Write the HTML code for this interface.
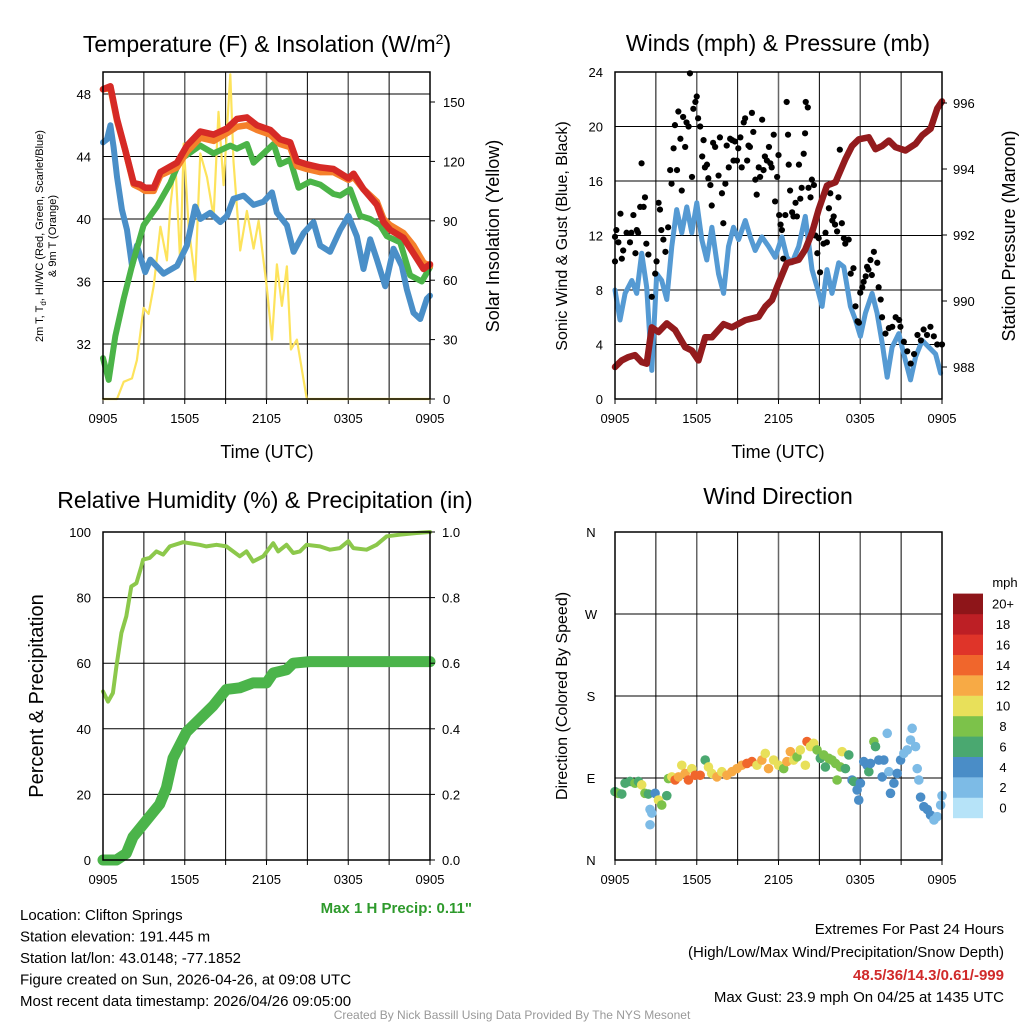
<!DOCTYPE html>
<html><head><meta charset="utf-8"><style>
body{margin:0;background:#fff;}
svg{display:block;font-family:"Liberation Sans",Arial,sans-serif;}
</style></head><body>
<svg id="c" width="1024" height="1024" viewBox="0 0 1024 1024"></svg>
<script>
// ---------- Panel 1 data ----------
const redT=[0,.54,1.03,1.64,2.25,2.74,3.1,3.72,4.21,5.43,6.16,7.14,8.12,9.1,9.83,10.56,11.3,12.27,13.0,13.74,14.23,14.96,15.94,16.92,18.02,18.39,19.12,20.1,20.59,21.08,22.05,22.79,23.52,24];
const redV=[48.3,48.5,46.4,44.4,42.3,42.2,42.0,42.0,43.0,43.6,44.7,45.6,45.4,45.8,46.4,46.5,46.0,45.7,45.1,44.9,43.7,43.5,43.3,43.2,42.6,42.9,41.9,40.9,39.8,39.3,38.8,37.8,36.8,37.1];
const orangeV=[48.3,48.4,46.3,44.4,42.2,42.0,41.8,41.8,42.8,43.3,44.3,45.2,45.0,45.5,45.9,46.0,45.7,45.4,44.8,44.6,43.4,43.2,43.0,43.0,42.5,42.7,41.9,41.1,40.0,39.6,39.1,38.3,37.2,37.0];
const greenT=[0,.42,.9,1.52,2.13,2.98,3.96,4.94,5.67,7.14,8.12,9.34,9.83,10.56,11.05,11.78,12.52,13.0,13.74,14.35,15.21,15.94,16.92,17.41,18.14,18.88,19.61,20.34,20.83,21.81,22.54,23.4,24];
const greenV=[31.1,29.7,32.5,34.9,37.0,39.6,40.8,42.3,43.8,44.7,44.2,44.7,44.5,44.8,43.6,44.2,44.8,43.5,43.8,42.0,42.4,42.2,41.6,41.5,41.9,40.2,40.0,39.6,38.9,38.5,36.4,36.0,36.9];
const blueT=[0,.29,.54,.78,1.03,1.39,1.76,2.13,2.49,3.1,3.47,4.45,5.43,6.16,6.77,7.14,7.87,8.61,9.1,9.58,10.32,11.05,11.78,12.4,12.76,13.5,13.99,14.72,15.45,15.94,16.67,17.41,18.02,18.63,19.12,19.61,20.1,20.71,21.32,21.93,22.3,22.79,23.28,23.77,24];
const blueV=[44.9,45.1,46.0,44.6,42.7,40.6,39.3,37.0,38.3,36.6,37.4,36.5,37.0,38.3,40.8,40.0,40.4,39.8,40.2,41.3,41.5,40.9,41.1,41.7,40.4,39.6,37.9,39.1,39.8,38.3,37.9,39.3,40.2,38.9,36.8,38.7,37.4,35.7,38.1,37.0,35.5,34.0,33.6,34.9,35.1];
const solarT=[0,1.03,1.52,2.13,2.49,2.98,3.35,3.72,4.21,4.69,4.94,5.31,5.67,5.92,6.28,6.77,7.14,7.63,8.12,8.48,8.85,9.34,9.58,10.07,10.56,11.05,11.42,11.78,12.03,12.4,12.76,13.13,13.5,13.79,14.23,14.72,14.96,24];
const solarV=[0,0,8.7,10.4,19.6,46,43,57,87,70,97,120,68,129,87,60,124,112,92,145,108,164,120,75,95,76,90,70,56,30,68,47,67,25,30,9.6,0,0];
const tempTicks=[32,36,40,44,48];
const solarTicks=[0,30,60,90,120,150];
const timeLabels=["0905","1505","2105","0305","0905"];
// ---------- Panel 2 data ----------
const presT=[0,.49,.98,1.47,1.96,2.33,2.7,3.19,3.8,4.41,5.15,5.64,6.13,6.62,7.11,7.97,8.58,9.56,10.54,11.03,11.52,12.01,12.62,13.48,13.97,14.46,14.95,15.56,16.18,16.91,17.4,17.89,18.63,19.12,19.61,20.1,20.59,21.32,22.06,22.55,23.16,23.65,24];
const presV=[988.0,988.2,988.3,988.36,988.15,988.1,989.2,989.06,989.32,989.12,988.6,988.5,988.2,988.9,988.9,989.3,989.2,989.42,989.52,989.83,990.03,990.54,991.15,991.25,991.56,992.07,992.78,993.5,993.6,994.3,994.7,994.9,994.96,994.6,994.7,994.86,994.66,994.56,994.76,995.02,995.22,995.83,996.05];
const windT=[0,.37,.74,1.23,1.59,1.96,2.33,2.7,3.06,3.43,3.8,4.17,4.53,4.9,5.27,5.64,6.0,6.37,6.74,7.11,7.6,7.97,8.33,8.7,9.07,9.56,9.93,10.29,10.78,11.27,11.76,12.25,12.62,12.99,13.48,13.97,14.46,14.83,15.2,15.56,15.93,16.42,16.79,17.28,17.65,18.01,18.38,18.87,19.24,19.61,19.98,20.34,20.83,21.2,21.69,22.06,22.55,23.04,23.53,23.9];
const windV=[8.0,5.8,7.75,8.7,7.75,10.7,8.2,2.1,9.2,8.7,7.3,11.2,13.9,12.2,14.1,12.2,14.4,11.7,10.2,12.6,9.2,7.75,11.2,12.6,11.7,13.1,11.9,10.9,11.9,11.2,10.4,11.9,10.4,10.0,11.2,13.4,9.5,8.2,6.8,9.5,7.75,10.0,9.7,6.8,5.8,4.6,6.3,7.75,6.3,4.1,1.6,3.8,4.8,3.3,1.4,3.1,4.3,3.8,3.3,1.9];
const gustT=[0,.1,.4,.25,0,.5,.6,.85,1.1,1.2,1.35,1.5,1.6,1.7,1.85,1.95,2.1,2.2,2.3,2.45,2.7,2.95,3.05,3.2,3.3,3.4,3.55,3.7,3.9,4.05,4.15,4.3,4.4,4.55,4.65,4.8,4.9,5.0,5.15,5.25,5.4,5.5,5.65,5.75,5.9,6.0,6.1,6.25,6.4,6.5,6.6,6.75,6.85,7.0,7.1,7.2,7.35,7.6,7.7,7.85,7.95,8.1,8.2,8.35,8.45,8.6,8.7,8.8,8.95,9.05,9.2,9.3,9.45,9.55,9.7,9.8,9.9,10.05,10.15,10.3,10.4,10.55,10.65,10.8,10.9,11.0,11.15,11.3,11.4,11.5,11.65,11.75,11.9,12.0,12.05,12.15,12.25,12.35,12.5,12.6,12.7,12.75,12.85,13.0,13.1,13.25,13.35,13.5,13.6,13.7,13.85,13.95,14.0,14.15,14.2,14.35,14.45,14.6,14.7,14.85,14.95,15.05,15.3,15.45,15.55,15.7,15.8,15.95,16.05,16.15,16.3,16.4,16.5,16.65,16.8,16.9,17.15,17.3,17.5,17.65,17.8,17.9,18.0,18.15,18.25,18.4,18.5,18.6,18.75,18.85,19.0,19.25,19.35,19.5,19.6,19.85,20.1,20.35,20.6,20.85,20.95,21.2,21.45,21.7,21.95,22.2,22.45,22.65,22.9,23.15,23.4,23.65,24];
const gustV=[11.9,12.4,13.6,11.5,10.1,10.3,10.9,12.2,11.5,12.2,13.5,10.7,12.4,12.2,14.1,17.3,14.1,14.8,11.4,10.6,7.5,9.2,10.1,14.4,13.9,12.4,11.7,10.8,12.6,16.8,15.8,18.4,20.1,16.8,21.1,19.1,15.3,20.7,18.5,20.3,20.0,23.9,16.3,21.3,21.8,22.2,20.6,20.0,17.8,19.0,17.0,17.2,16.2,15.7,14.2,18.8,18.5,16.4,19.2,15.1,12.9,15.8,18.6,17.0,19.1,19.0,17.5,18.9,17.5,18.4,19.2,17.0,20.3,20.6,17.5,18.6,18.5,21.0,19.6,16.1,15.0,17.0,16.3,20.5,16.8,17.8,17.5,18.5,17.3,17.0,19.4,14.5,16.3,17.9,13.5,12.8,12.4,10.3,13.5,21.8,19.4,17.2,15.3,13.7,13.4,14.4,13.4,17.2,14.7,15.5,18.0,19.5,21.8,21.4,15.5,14.8,16.1,15.7,12.0,10.7,11.8,9.3,11.4,12.2,11.5,14.0,15.1,13.1,13.4,12.8,12.3,14.8,18.3,12.9,11.8,11.4,11.7,9.2,9.6,6.8,5.7,5.6,7.8,8.2,8.6,9.0,9.7,9.5,10.2,9.1,10.8,10.0,8.2,7.3,6.0,4.8,5.2,5.3,6.0,5.8,5.3,4.2,3.5,2.6,3.3,4.7,4.3,5.1,4.7,5.3,4.6,4.0,4.0];
const windTicks=[0,4,8,12,16,20,24];
const presTicks=[988,990,992,994,996];
// ---------- Panel 3 data ----------
const rhT=[0,.37,.73,.98,1.35,1.71,2.08,2.45,2.82,2.94,3.43,3.92,4.41,4.9,5.88,7.1,7.59,8.33,9.06,10.04,10.53,11.02,11.76,12.49,12.86,13.47,13.96,14.45,14.94,15.92,16.65,17.39,18.0,18.37,19.35,20.08,20.82,21.8,23.02,24];
const rhV=[51.4,48.3,50.9,59,69.2,74.3,83.4,84.4,89.5,91.6,92.1,94.1,93.1,95.6,96.9,96.1,95.6,96.1,95.6,92.6,94.1,91,92.6,96.6,94.1,96.1,93.6,94.1,96.1,95.6,94.6,95.1,97.2,95.1,94.6,96.1,98.7,99.2,99.7,100];
const prT=[0,.98,1.71,2.2,3.18,4.16,4.65,5.14,5.63,6.12,7.1,8.08,9.06,10.04,11.02,12.0,12.49,13.47,13.96,15.18,24];
const prV=[0,0,.02,.07,.12,.17,.22,.31,.35,.39,.43,.47,.52,.525,.54,.54,.57,.58,.6,.605,.605];
const rhTicks=[0,20,40,60,80,100];
const prTicks=["0.0","0.2","0.4","0.6","0.8","1.0"];
// ---------- Panel 4 data ----------
const dirT=[0,.25,.5,.74,1.1,1.47,1.72,1.96,2.2,2.45,2.57,2.7,2.57,2.94,3.19,3.43,3.8,3.92,4.17,4.41,4.66,4.9,5.15,5.39,5.64,5.88,6.25,6.62,6.86,7.1,7.48,7.84,8.21,8.58,8.95,9.31,9.68,10.05,10.42,10.78,11.03,11.27,11.64,12.01,12.38,12.62,12.87,13.11,13.36,13.6,13.97,14.09,14.34,14.58,14.83,15.07,15.32,15.44,15.69,15.93,16.18,16.3,16.54,16.67,16.91,17.16,17.4,17.52,17.77,17.89,18.01,18.26,18.5,18.63,18.75,19.0,19.12,19.36,19.61,19.73,19.98,20.1,20.22,20.47,20.71,20.96,21.2,21.45,21.69,21.81,22.06,22.18,22.3,22.43,22.67,22.92,23.16,23.41,23.65,23.9,24];
const dirV=[75,73.2,72.4,84.3,86.2,84.3,86.2,82.5,73.2,72.4,55.5,51.5,38.7,73.2,65.8,60.3,70.6,89.4,91.2,87.8,91.2,104,95,87.8,100.3,93,93,109.7,102.1,95,91.2,96.9,93,96.9,100.3,104,106,108,104,109.7,117,100.3,109.7,104,100.3,108,118.9,109.7,113.2,120.8,104,130,124.5,128.1,120.8,111.6,115.3,102.1,111.6,109.7,106,87.8,102.1,118.9,100.3,115.3,87.8,86.2,76.9,65.8,84.3,108,104,96.9,106,130,124.5,109.7,91.2,109.7,139,96.9,73.2,84.3,95,109.7,117,120.8,131.7,144.5,124.5,100.3,87.8,69,58.5,55.5,49.4,43.9,47.6,60.3,70.6];
const dirS=[7,8,6,6,7,8,7,10,8,6,2,3,2,5,10,8,6,8,11,15,12,10,13,15,11,14,14,7,10,10,12,11,12,12,13,13,15,14,11,12,10,12,11,10,8,12,12,10,9,10,10,15,11,10,8,6,8,6,8,8,8,8,8,10,6,6,5,6,4,4,4,4,4,6,4,8,7,4,4,4,2,2,4,4,4,4,2,2,2,2,2,2,2,4,4,4,4,2,2,2,2];
const speedLabels=["0","2","4","6","8","10","12","14","16","18","20+"];
const speedColors=["#b6e3f8","#7dbbe6","#4a8dc7","#4aa870","#7cc24a","#e8e05a","#f7aa45","#f0662c","#df3429","#bd1f25","#8e1519"];
const dirLabels=["N","E","S","W","N"];

// ---------- drawing ----------
const NS="http://www.w3.org/2000/svg";
const svg=document.getElementById("c");
function mk(tag,attrs,parent){const e=document.createElementNS(NS,tag);for(const k in attrs)e.setAttribute(k,attrs[k]);(parent||svg).appendChild(e);return e;}
function txt(x,y,s,size,anchor,extra){const e=mk("text",Object.assign({x:x,y:y,"font-size":size,"text-anchor":anchor||"middle",fill:"#000"},extra||{}));e.textContent=s;return e;}
const L1=103,R1=430,L2=615,R2=942;
const xA=t=>L1+t*(R1-L1)/24, xB=t=>L2+t*(R2-L2)/24;
const yT=v=>94+(48-v)*15.625, yS=v=>399-v*1.98;
const yW=v=>399-v*327/24, yP=v=>367-(v-988)*33;
const yRH=v=>860-v*3.28, yPr=v=>860-v*328;
const yD=d=>860-d*328/360;

function grid(L,R,T,B,hy,name){
  const g=mk("g",{});
  
  
  for(let k=1;k<8;k++){const x=L+k*(R-L)/8;mk("line",{x1:x,x2:x,y1:T,y2:B,stroke:k%2?"#000":"#666","stroke-width":k%2?1:1.5},g);}
  hy.forEach(y=>mk("line",{x1:L,x2:R,y1:y,y2:y,stroke:"#000","stroke-width":1},g));
  for(let k=0;k<=8;k++){const x=L+k*(R-L)/8;mk("line",{x1:x,x2:x,y1:B,y2:B+5,stroke:"#000"},g);}
}
function frame(L,R,T,B,name){const r=mk("rect",{x:L,y:T,width:R-L,height:B-T,fill:"none",stroke:"#000","stroke-width":1.5});}
function path(ts,vs,xf,yf,color,w,name){
  let d="";ts.forEach((t,i)=>{d+=(i?"L":"M")+xf(t).toFixed(1)+","+yf(vs[i]).toFixed(1);});
  const p=mk("path",{d:d,fill:"none",stroke:color,"stroke-width":w,"stroke-linejoin":"round","stroke-linecap":"round"});
  
  
}
function xlabels(L,R,y){timeLabels.forEach((s,i)=>{const e=txt(L+i*(R-L)/4,y,s,13);});}

// Panel 1
grid(L1,R1,72,399,tempTicks.map(yT),"temp-grid");
path(solarT,solarV,xA,yS,"#fde35c",2.2,"solar-insolation-line");
path(blueT,blueV,xA,yT,"#4a8fc8",6,"dewpoint-line");
path(greenT,greenV,xA,yT,"#4bb448",6,"hiwc-line");
path(redT,orangeV,xA,yT,"#f5802b",6.5,"temp-9m-line");
path(redT,redV,xA,yT,"#d62a26",6.5,"temp-2m-line");
frame(L1,R1,72,399,"temp-plot-frame");
tempTicks.forEach(v=>{const e=txt(L1-12,yT(v)+5,String(v),13,"end");});
solarTicks.forEach(v=>{mk("line",{x1:R1,x2:R1+5,y1:yS(v),y2:yS(v),stroke:"#000"});const e=txt(R1+13,yS(v)+5,String(v),13,"start");});
xlabels(L1,R1,423);
let e;
e=txt(267,52,"",23);e.innerHTML='Temperature (F) &amp; Insolation (W/m<tspan dy="-8" font-size="14">2</tspan><tspan dy="8">)</tspan>';
e=txt(267,458,"Time (UTC)",18);
e=txt(0,0,"",11,"middle",{transform:"translate(43,236) rotate(-90)"});e.innerHTML='2m T, T<tspan dy="3" font-size="8">d</tspan><tspan dy="-3">, HI/WC (Red, Green, Scarlet/Blue)</tspan>';
e=txt(0,0,"& 9m T (Orange)",11,"middle",{transform:"translate(56,236) rotate(-90)"});
e=txt(0,0,"Solar Insolation (Yellow)",18,"middle",{transform:"translate(499,236) rotate(-90)"});

// Panel 2
grid(L2,R2,72,399,windTicks.map(yW),"wind-grid");
path(windT,windV,xB,yW,"#559ad3",5,"sonic-wind-line");
gustT.forEach((t,i)=>{const c=mk("circle",{cx:xB(t),cy:yW(gustV[i]),r:3.1,fill:"#000"});

});
path(presT,presV,xB,yP,"#931b1d",6.5,"pressure-line");
frame(L2,R2,72,399,"wind-plot-frame");
windTicks.forEach(v=>{const e=txt(L2-12,yW(v)+5,String(v),13,"end");});
presTicks.forEach(v=>{mk("line",{x1:R2,x2:R2+5,y1:yP(v),y2:yP(v),stroke:"#000"});const e=txt(R2+11,yP(v)+5,String(v),13,"start");});
xlabels(L2,R2,423);
e=txt(778,51,"Winds (mph) & Pressure (mb)",23);
e=txt(778,458,"Time (UTC)",18);
e=txt(0,0,"Sonic Wind & Gust (Blue, Black)",16,"middle",{transform:"translate(567,236) rotate(-90)"});
e=txt(0,0,"Station Pressure (Maroon)",18,"middle",{transform:"translate(1015,236) rotate(-90)"});

// Panel 3
grid(L1,R1,532,860,rhTicks.map(yRH),"rh-grid");
path(prT,prV,xA,yPr,"#4bb44a",11,"precip-line");
path(rhT,rhV,xA,yRH,"#8cc84b",4,"rh-line");
frame(L1,R1,532,860,"rh-plot-frame");
rhTicks.forEach(v=>{const e=txt(L1-12,yRH(v)+5,String(v),13,"end");});
prTicks.forEach(s=>{const y=yPr(parseFloat(s));mk("line",{x1:R1,x2:R1+5,y1:y,y2:y,stroke:"#000"});const e=txt(R1+12,y+5,s,13,"start");});
xlabels(L1,R1,884);
e=txt(265,508,"Relative Humidity (%) & Precipitation (in)",23);
e=txt(0,0,"Percent & Precipitation",20,"middle",{transform:"translate(43,696) rotate(-90)"});
e=txt(472,913,'Max 1 H Precip: 0.11"',15,"end",{fill:"#2e9a2c","font-weight":"bold"});

// Panel 4
grid(L2,R2,532,860,[0,90,180,270,360].map(yD),"dir-grid");
dirT.forEach((t,i)=>{const b=Math.min(10,Math.floor(dirS[i]/2));const c=mk("circle",{cx:xB(t),cy:yD(dirV[i]),r:4.8,fill:speedColors[b]});

});
frame(L2,R2,532,860,"dir-plot-frame");
dirLabels.forEach((s,i)=>{const e=txt(L2-24,yD(i*90)+5,s,13);});
xlabels(L2,R2,884);
e=txt(778,504,"Wind Direction",23);
e=txt(0,0,"Direction (Colored By Speed)",16,"middle",{transform:"translate(567,696) rotate(-90)"});
e=txt(1005,587,"mph",13);
speedLabels.forEach((s,i)=>{const y=818-(i+1)*20.4;const r=mk("rect",{x:953,y:y,width:30,height:20.6,fill:speedColors[i]});


const t=txt(1003,y+15,s,13);});

// Footer
["Location: Clifton Springs","Station elevation: 191.445 m","Station lat/lon: 43.0148; -77.1852","Figure created on Sun, 2026-04-26, at 09:08 UTC","Most recent data timestamp: 2026/04/26 09:05:00"].forEach((s,i)=>{const e=txt(20,920+i*21.5,s,15,"start");});
e=txt(1004,934,"Extremes For Past 24 Hours",15,"end");
e=txt(1004,957,"(High/Low/Max Wind/Precipitation/Snow Depth)",15,"end");
e=txt(1004,980,"48.5/36/14.3/0.61/-999",15,"end",{fill:"#d02a2a","font-weight":"bold"});
e=txt(1004,1002,"Max Gust: 23.9 mph On 04/25 at 1435 UTC",15,"end");
e=txt(512,1019,"Created By Nick Bassill Using Data Provided By The NYS Mesonet",12,"middle",{fill:"#999"});
</script>
</body></html>
